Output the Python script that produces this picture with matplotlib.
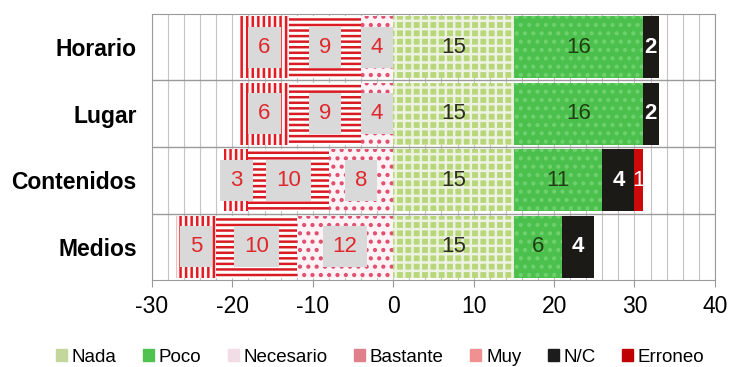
import numpy as np
import matplotlib.pyplot as plt
from matplotlib.patches import Patch

plt.rcParams['font.family'] = ['Liberation Sans', 'DejaVu Sans']
plt.rcParams['hatch.linewidth'] = 1.8
plt.rcParams['axes.unicode_minus'] = False

# data (negative side: Necesario, Bastante, Muy; positive side: Nada, Poco, N/C, Erroneo)
categories = ['Horario', 'Lugar', 'Contenidos', 'Medios']
nada = np.array([15, 15, 15, 15])
poco = np.array([16, 16, 11, 6])
necesario = np.array([4, 4, 8, 12])
bastante = np.array([9, 9, 10, 10])
muy = np.array([6, 6, 3, 5])
nc = np.array([2, 2, 4, 4])
erroneo = np.array([0, 0, 1, 0])

fig = plt.figure(figsize=(7.34, 3.67), dpi=100)
ax = fig.add_axes([0.207, 0.237, 0.767, 0.725])

y = np.arange(len(categories))
h = 0.93

neg_box = dict(boxstyle='square,pad=0.45', fc='#d9d9d9', ec='none')


def labels_for(vals):
    return [str(v) if v else '' for v in vals]


b_nec = ax.barh(y, -necesario, left=0, height=h, color='#fdf2f5',
                edgecolor='#e0506e', hatch='..', lw=0)
b_bas = ax.barh(y, -bastante, left=-necesario, height=h, color='white',
                edgecolor='#d91c24', hatch='---', lw=0)
b_muy = ax.barh(y, -muy, left=-(necesario + bastante), height=h, color='#fff4f4',
                edgecolor='#e01c24', hatch='|||', lw=0)

b_nada = ax.barh(y, nada, left=0, height=h, color='#b8d67a',
                 edgecolor='#eef2e2', hatch='++', lw=0)
b_poco = ax.barh(y, poco, left=nada, height=h, color='#4cc04c',
                 edgecolor='#6fd06f', hatch='..', lw=0)
b_nc = ax.barh(y, nc, left=nada + poco, height=h, color='#1c1a16', lw=0)
b_err = ax.barh(y, erroneo, left=nada + poco + nc, height=h, color='#cc0a0a', lw=0)

for bars, vals in [(b_nec, necesario), (b_bas, bastante), (b_muy, muy)]:
    ax.bar_label(bars, labels=labels_for(vals), label_type='center',
                 color='#e0282c', fontsize=16, bbox=neg_box)
ax.bar_label(b_nada, labels=labels_for(nada), label_type='center',
             color='#2e2e20', fontsize=16)
ax.bar_label(b_poco, labels=labels_for(poco), label_type='center',
             color='#1f3f12', fontsize=16)
ax.bar_label(b_nc, labels=labels_for(nc), label_type='center',
             color='white', fontsize=16, fontweight='bold')
ax.bar_label(b_err, labels=labels_for(erroneo), label_type='center',
             color='white', fontsize=16)

ax.set_xlim(-30, 40)
ax.set_ylim(len(categories) - 0.5, -0.5)
ax.set_xticks(np.arange(-30, 41, 10))
ax.set_xticks(np.arange(-30, 41, 2), minor=True)
ax.set_yticks(y)
ax.set_yticklabels(categories, fontweight='bold', fontsize=16.5)
ax.set_yticks(y[:-1] + 0.5, minor=True)

ax.set_axisbelow(True)
ax.grid(axis='x', which='both', color='#c4c4c4', lw=0.8)
ax.grid(axis='y', which='minor', color='#9a9a9a', lw=1.0)
ax.tick_params(axis='y', which='both', length=0, pad=11)
ax.tick_params(axis='x', which='major', length=5, color='#999999', labelsize=16.5, pad=6)
ax.tick_params(axis='x', which='minor', length=0)
for s in ax.spines.values():
    s.set_color('#9a9a9a')

handles = [
    Patch(color='#c3d69b', label='Nada'),
    Patch(color='#4fc24f', label='Poco'),
    Patch(color='#f2dce6', label='Necesario'),
    Patch(color='#e0808a', label='Bastante'),
    Patch(color='#f09090', label='Muy'),
    Patch(color='#1c1c1c', label='N/C'),
    Patch(color='#c00000', label='Erroneo'),
]
fig.legend(handles=handles, loc='center', bbox_to_anchor=(0.518, 0.027), ncol=7,
           frameon=False, fontsize=13.5, handlelength=0.6, handleheight=0.6,
           handletextpad=0.25, columnspacing=1.4)

fig.savefig('out.png', dpi=100)
